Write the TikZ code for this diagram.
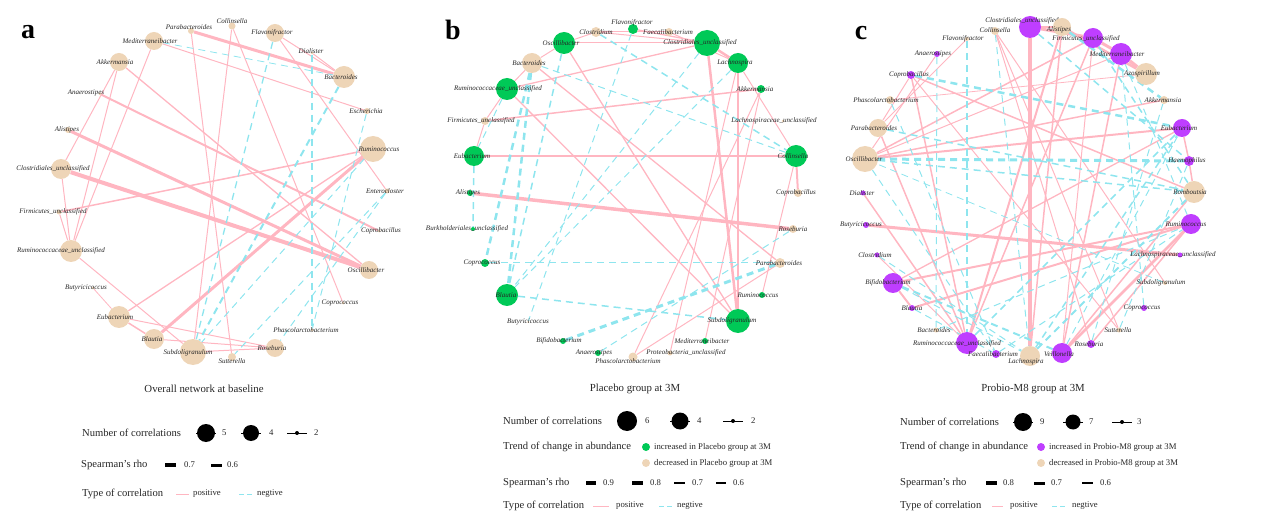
\documentclass[tikz,border=0pt]{standalone}
\usepackage{fontspec}
\setmainfont{Liberation Serif}
\usetikzlibrary{positioning}

\definecolor{rose}{HTML}{FFB6C1}
\definecolor{cyanne}{HTML}{8EE5EE}
\definecolor{beige}{HTML}{EED5B7}
\definecolor{vert}{HTML}{00C957}
\definecolor{pourpre}{HTML}{BF3EFF}

\pgfdeclarelayer{fond}
\pgfsetlayers{fond,main}

\tikzset{
  taxon/.style={circle, inner sep=0pt},
  nomtaxon/.style={font=\fontsize{7}{8}\selectfont\itshape, inner sep=0pt, text=black!85},
  posi/.style={draw=rose},
  negt/.style={draw=cyanne, dash pattern=on 7pt off 5pt},
  titrelegende/.style={font=\fontsize{10.6}{12}\selectfont, anchor=west, inner sep=0pt, text=black!85},
  entree/.style={font=\fontsize{8.7}{10}\selectfont, anchor=west, inner sep=0pt, text=black!85},
  titrepanneau/.style={font=\fontsize{10.8}{12}\selectfont, text=black!85},
  lettre/.style={font=\fontsize{28}{28}\selectfont\bfseries, inner sep=0pt},
  cle/.style={circle, fill=black, inner sep=0pt},
}

\newcommand\Taxon[8] {
  \node[taxon, fill=#5, minimum size=#4pt] (#1) at (#2,#3) {};
  \node[nomtaxon] (#1-nom) at (#6,#7) {#8};
}
\newcommand\Pos[3] {
  \draw[posi, line width=#3pt] (#1) -- (#2);
}
\newcommand\Neg[3] {
  \draw[negt, line width=#3pt] (#1) -- (#2);
}
\newcommand\Cle[4] {
  \draw[black, line width=0.8pt] (#2-10,#3) -- (#2+10,#3);
  \node[cle, minimum size=#4pt] (#1) at (#2,#3) {};
}

\begin{document}
\begin{tikzpicture}[x=1pt, y=-1pt]
  \useasboundingbox (0,0) rectangle (1269,529);

  \node[lettre] (lettreA) at (28,32) {a};
  \node[lettre] (lettreB) at (453,30) {b};
  \node[lettre] (lettreC) at (861,33) {c};

  \Taxon{aPara}{191}{31}{6}{beige}{189}{27}{Parabacteroides}
  \Taxon{aColl}{232}{26}{7}{beige}{232}{21}{Collinsella}
  \Taxon{aFlav}{275}{33}{18}{beige}{272}{33}{Flavonifractor}
  \Taxon{aMedi}{154}{41}{18}{beige}{150}{41}{Mediterraneibacter}
  \Taxon{aDial}{312}{53}{3}{beige}{311}{51}{Dialister}
  \Taxon{aAkke}{119}{62}{18}{beige}{115}{62}{Akkermansia}
  \Taxon{aBact}{344}{77}{22}{beige}{341}{77}{Bacteroides}
  \Taxon{aAnae}{100}{94}{3}{beige}{86}{93}{Anaerostipes}
  \Taxon{aEsch}{367}{111}{6}{beige}{366}{111}{Escherichia}
  \Taxon{aAlis}{68}{130}{6}{beige}{67}{130}{Alistipes}
  \Taxon{aRumi}{373}{149}{26}{beige}{379}{149}{Ruminococcus}
  \Taxon{aClosU}{61}{169}{20}{beige}{53}{169}{Clostridiales\_unclassified}
  \Taxon{aEnte}{387}{191}{5}{beige}{385}{191}{Enterocloster}
  \Taxon{aFirm}{59}{212}{5}{beige}{53}{212}{Firmicutes\_unclassified}
  \Taxon{aCopb}{379}{231}{3}{beige}{381}{231}{Coprobacillus}
  \Taxon{aRumU}{71}{251}{22}{beige}{61}{251}{Ruminococcaceae\_unclassified}
  \Taxon{aOsci}{369}{270}{18}{beige}{366}{270}{Oscillibacter}
  \Taxon{aButy}{93}{288}{3}{beige}{86}{288}{Butyricicoccus}
  \Taxon{aCopc}{343}{303}{3}{beige}{340}{303}{Coprococcus}
  \Taxon{aEub}{119}{317}{22}{beige}{115}{317}{Eubacterium}
  \Taxon{aPhas}{312}{330}{3}{beige}{306}{330}{Phascolarctobacterium}
  \Taxon{aBlau}{154}{339}{20}{beige}{152}{339}{Blautia}
  \Taxon{aRose}{275}{348}{18}{beige}{272}{348}{Roseburia}
  \Taxon{aSubd}{193}{352}{26}{beige}{188}{353}{Subdoligranulum}
  \Taxon{aSutt}{232}{357}{8}{beige}{232}{361}{Sutterella}

  \Taxon{bFlav}{633}{29}{10}{vert}{632}{23}{Flavonifractor}
  \Taxon{bClos}{596}{32}{10}{beige}{596}{32}{Clostridium}
  \Taxon{bFaec}{669}{32}{8}{beige}{668}{32}{Faecalibacterium}
  \Taxon{bOsci}{564}{43}{22}{vert}{561}{43}{Oscillibacter}
  \Taxon{bClosU}{707}{43}{26}{vert}{700}{43}{Clostridiales\_unclassified}
  \Taxon{bBact}{532}{63}{20}{beige}{529}{63}{Bacteroides}
  \Taxon{bLach}{738}{63}{20}{vert}{735}{63}{Lachnospira}
  \Taxon{bRumU}{507}{89}{22}{vert}{498}{89}{Ruminococcaceae\_unclassified}
  \Taxon{bAkke}{761}{89}{8}{vert}{755}{89}{Akkermansia}
  \Taxon{bFirm}{485}{121}{8}{beige}{481}{121}{Firmicutes\_unclassified}
  \Taxon{bLachU}{783}{121}{3}{beige}{774}{121}{Lachnospiraceae\_unclassified}
  \Taxon{bEub}{474}{156}{20}{vert}{472}{156}{Eubacterium}
  \Taxon{bColl}{796}{156}{22}{vert}{793}{156}{Collinsella}
  \Taxon{bAlis}{470}{193}{6}{vert}{468}{193}{Alistipes}
  \Taxon{bCopb}{798}{193}{8}{beige}{796}{193}{Coprobacillus}
  \Taxon{bBurk}{473}{229}{4}{vert}{467}{229}{Burkholderiales\_unclassified}
  \Taxon{bRose}{793}{229}{8}{beige}{793}{229}{Roseburia}
  \Taxon{bCopc}{485}{263}{8}{vert}{482}{263}{Coprococcus}
  \Taxon{bPara}{780}{263}{10}{beige}{779}{263}{Parabacteroides}
  \Taxon{bBlau}{507}{295}{22}{vert}{506}{295}{Blautia}
  \Taxon{bRumi}{762}{295}{6}{vert}{758}{295}{Ruminococcus}
  \Taxon{bButy}{528}{322}{2}{beige}{528}{322}{Butyricicoccus}
  \Taxon{bSubd}{738}{321}{24}{vert}{732}{321}{Subdoligranulum}
  \Taxon{bBifi}{563}{341}{6}{vert}{559}{341}{Bifidobacterium}
  \Taxon{bMedi}{705}{341}{6}{vert}{702}{341}{Mediterraneibacter}
  \Taxon{bAnae}{598}{353}{6}{vert}{594}{353}{Anaerostipes}
  \Taxon{bProt}{670}{353}{5}{beige}{686}{353}{Proteobacteria\_unclassified}
  \Taxon{bPhas}{633}{357}{9}{beige}{628}{361}{Phascolarctobacterium}

  \Taxon{cClosU}{1030}{27}{22}{pourpre}{1022}{21}{Clostridiales\_unclassified}
  \Taxon{cColl}{995}{31}{8}{beige}{995}{30}{Collinsella}
  \Taxon{cAlis}{1062}{27}{18}{beige}{1059}{30}{Alistipes}
  \Taxon{cFlav}{967}{39}{4}{beige}{963}{39}{Flavonifractor}
  \Taxon{cFirm}{1093}{38}{20}{pourpre}{1086}{39}{Firmicutes\_unclassified}
  \Taxon{cAnae}{937}{54}{6}{pourpre}{933}{54}{Anaerostipes}
  \Taxon{cMedi}{1121}{54}{22}{pourpre}{1117}{54}{Mediterraneibacter}
  \Taxon{cCopb}{911}{75}{8}{pourpre}{909}{75}{Coprobacillus}
  \Taxon{cAzos}{1146}{74}{22}{beige}{1142}{74}{Azospirillum}
  \Taxon{cPhas}{890}{100}{8}{beige}{886}{100}{Phascolarctobacterium}
  \Taxon{cAkke}{1164}{100}{8}{beige}{1163}{100}{Akkermansia}
  \Taxon{cPara}{878}{128}{18}{beige}{874}{128}{Parabacteroides}
  \Taxon{cEub}{1182}{128}{18}{pourpre}{1179}{128}{Eubacterium}
  \Taxon{cOsci}{865}{159}{26}{beige}{864}{159}{Oscillibacter}
  \Taxon{cHaem}{1189}{161}{10}{pourpre}{1187}{161}{Haemophilus}
  \Taxon{cDial}{863}{193}{5}{pourpre}{862}{193}{Dialister}
  \Taxon{cRomb}{1194}{192}{22}{beige}{1190}{192}{Romboutsia}
  \Taxon{cButy}{866}{225}{6}{pourpre}{861}{225}{Butyricicoccus}
  \Taxon{cRumi}{1191}{224}{20}{pourpre}{1186}{224}{Ruminococcus}
  \Taxon{cClos}{877}{255}{5}{pourpre}{875}{255}{Clostridium}
  \Taxon{cLachU}{1180}{255}{5}{pourpre}{1173}{255}{Lachnospiraceae\_unclassified}
  \Taxon{cBifi}{893}{283}{20}{pourpre}{888}{283}{Bifidobacterium}
  \Taxon{cSubd}{1165}{283}{4}{beige}{1161}{283}{Subdoligranulum}
  \Taxon{cBlau}{912}{308}{6}{pourpre}{912}{308}{Blautia}
  \Taxon{cCopc}{1144}{308}{6}{pourpre}{1142}{308}{Coprococcus}
  \Taxon{cBact}{936}{330}{5}{beige}{934}{330}{Bacteroides}
  \Taxon{cSutt}{1119}{330}{5}{beige}{1118}{330}{Sutterella}
  \Taxon{cRumU}{967}{343}{22}{pourpre}{957}{344}{Ruminococcaceae\_unclassified}
  \Taxon{cRose}{1091}{344}{8}{pourpre}{1089}{344}{Roseburia}
  \Taxon{cFaec}{996}{354}{8}{pourpre}{993}{354}{Faecalibacterium}
  \Taxon{cVeil}{1062}{353}{20}{pourpre}{1059}{354}{Veillonella}
  \Taxon{cLach}{1030}{356}{20}{beige}{1026}{362}{Lachnospira}

  \begin{pgfonlayer}{fond}
    \Pos{aPara}{aBact}{3}
    \Pos{aPara}{aSutt}{1}
    \Pos{aColl}{aSubd}{1}
    \Pos{aColl}{aCopc}{1}
    \Pos{aMedi}{aEsch}{1}
    \Pos{aMedi}{aRumU}{1}
    \Pos{aAkke}{aClosU}{1}
    \Pos{aAkke}{aRumU}{1}
    \Pos{aAkke}{aOsci}{1.3}
    \Pos{aAnae}{aCopb}{2}
    \Pos{aAlis}{aOsci}{3}
    \Pos{aClosU}{aOsci}{4}
    \Pos{aFirm}{aRumi}{1.5}
    \Pos{aClosU}{aRumU}{1}
    \Pos{aFirm}{aRumU}{1}
    \Pos{aRumU}{aSubd}{1}
    \Pos{aButy}{aEub}{0.8}
    \Pos{aEub}{aRumi}{1.3}
    \Pos{aBlau}{aRumi}{3}
    \Pos{aEub}{aRose}{1}
    \Pos{aEub}{aBlau}{1.5}
    \Pos{aBlau}{aRose}{1}
    \Pos{aSubd}{aRose}{1}
    \Pos{aFlav}{aBact}{1}
    \Pos{aDial}{aBact}{1}
    \Pos{aFlav}{aEnte}{1}
    \Neg{aMedi}{aBact}{0.8}
    \Neg{aFlav}{aSubd}{1.3}
    \Neg{aDial}{aPhas}{2.5}
    \Neg{aBact}{aSubd}{2}
    \Neg{aEsch}{aPhas}{1}
    \Neg{aRumi}{aSubd}{1}
    \Neg{aEnte}{aSutt}{1}
    \Neg{aEnte}{aRose}{1}

    \Pos{bClos}{bFaec}{1}
    \Pos{bFlav}{bClosU}{1.3}
    \Pos{bClos}{bClosU}{1}
    \Pos{bOsci}{bClos}{1}
    \Pos{bOsci}{bClosU}{1}
    \Pos{bClosU}{bLach}{2.5}
    \Pos{bFaec}{bLach}{1}
    \Pos{bClosU}{bRumU}{1.3}
    \Pos{bBact}{bRumU}{1}
    \Pos{bBact}{bOsci}{1}
    \Pos{bRumU}{bFirm}{1}
    \Pos{bFirm}{bEub}{1}
    \Pos{bFirm}{bAkke}{1.5}
    \Pos{bEub}{bColl}{1.2}
    \Pos{bAlis}{bRose}{3.5}
    \Pos{bClosU}{bSubd}{2.5}
    \Pos{bLach}{bSubd}{1.5}
    \Pos{bLach}{bProt}{1}
    \Pos{bAkke}{bMedi}{1}
    \Pos{bAkke}{bPhas}{1}
    \Pos{bColl}{bCopb}{2}
    \Pos{bColl}{bRumi}{1}
    \Pos{bLach}{bColl}{1}
    \Pos{bOsci}{bSubd}{1.3}
    \Pos{bRumU}{bSubd}{1.3}
    \Pos{bBact}{bPara}{1.3}
    \Pos{bPara}{bPhas}{1}
    \Neg{bEub}{bBurk}{1.5}
    \Neg{bBact}{bBlau}{2.5}
    \Neg{bBact}{bCopc}{2.5}
    \Neg{bRumU}{bEub}{1}
    \Neg{bOsci}{bBlau}{1.5}
    \Neg{bFlav}{bButy}{1}
    \Neg{bClosU}{bBlau}{1}
    \Neg{bLach}{bBlau}{1}
    \Neg{bBlau}{bSubd}{1.5}
    \Neg{bCopc}{bPara}{1}
    \Neg{bBifi}{bPara}{3}
    \Neg{bAnae}{bRose}{1}
    \Neg{bClos}{bColl}{1.5}
    \Neg{bBact}{bColl}{1}

    \Pos{cClosU}{cLach}{3.5}
    \Pos{cClosU}{cFirm}{3}
    \Pos{cFirm}{cMedi}{3}
    \Pos{cMedi}{cAzos}{3.5}
    \Pos{cAlis}{cAzos}{2.5}
    \Pos{cClosU}{cAlis}{2}
    \Pos{cButy}{cLachU}{3}
    \Pos{cBifi}{cRumi}{2}
    \Pos{cBlau}{cRumi}{2}
    \Pos{cOsci}{cEub}{2}
    \Pos{cOsci}{cAkke}{1.5}
    \Pos{cOsci}{cFirm}{1.5}
    \Pos{cOsci}{cMedi}{1}
    \Pos{cCopb}{cRomb}{1.5}
    \Pos{cEub}{cHaem}{1.5}
    \Pos{cHaem}{cRomb}{1.5}
    \Pos{cRumi}{cVeil}{2.5}
    \Pos{cRumi}{cRose}{1.5}
    \Pos{cRomb}{cVeil}{1.5}
    \Pos{cDial}{cRumU}{1.5}
    \Pos{cRumU}{cCopb}{1.5}
    \Pos{cRumU}{cAlis}{2}
    \Pos{cRumU}{cFirm}{1.5}
    \Pos{cRumU}{cPara}{1.5}
    \Pos{cBifi}{cBlau}{2}
    \Pos{cColl}{cSutt}{1}
    \Pos{cColl}{cRose}{1}
    \Pos{cFlav}{cPara}{1}
    \Pos{cAnae}{cOsci}{1}
    \Pos{cCopb}{cPara}{1}
    \Pos{cPhas}{cAzos}{0.8}
    \Pos{cLach}{cAlis}{1.5}
    \Pos{cVeil}{cMedi}{1.5}
    \Pos{cVeil}{cFirm}{1}
    \Pos{cCopb}{cSutt}{1}
    \Pos{cSubd}{cColl}{1}
    \Pos{cBifi}{cEub}{1.3}
    \Pos{cClos}{cRumU}{1}
    \Neg{cCopb}{cEub}{2.5}
    \Neg{cOsci}{cHaem}{3}
    \Neg{cPara}{cRomb}{1.5}
    \Neg{cOsci}{cRomb}{1.5}
    \Neg{cAlis}{cAkke}{2.5}
    \Neg{cClosU}{cHaem}{1.5}
    \Neg{cFirm}{cRomb}{1.5}
    \Neg{cMedi}{cRumi}{1}
    \Neg{cColl}{cLach}{1}
    \Neg{cFlav}{cRumU}{1.2}
    \Neg{cBifi}{cVeil}{2}
    \Neg{cBifi}{cLach}{1}
    \Neg{cBact}{cRumi}{1}
    \Neg{cRumU}{cEub}{1.5}
    \Neg{cLach}{cEub}{1.5}
    \Neg{cFaec}{cRumi}{1}
    \Neg{cVeil}{cEub}{1}
    \Neg{cPhas}{cFaec}{1}
    \Neg{cOsci}{cFaec}{1}
    \Neg{cAnae}{cBact}{1}
    \Neg{cClos}{cLach}{1}
    \Neg{cBlau}{cFaec}{1}
    \Neg{cSutt}{cHaem}{1}
    \Neg{cCopc}{cMedi}{1}
    \Neg{cLach}{cRomb}{2}
    \Neg{cRose}{cAkke}{1}
    \Neg{cSubd}{cOsci}{0.8}
  \end{pgfonlayer}

  \node[titrepanneau] (titreA) at (204,389) {Overall network at baseline};
  \node[titrelegende] (aNb) at (82,433) {Number of correlations};
  \Cle{aCle5}{206}{433}{18}
  \node[entree] (aCle5-t) at (222,433) {5};
  \Cle{aCle4}{251}{433}{16}
  \node[entree] (aCle4-t) at (269,433) {4};
  \Cle{aCle2}{297}{433}{4}
  \node[entree] (aCle2-t) at (314,433) {2};
  \node[titrelegende] (aRho) at (81,465) {Spearman's rho};
  \draw[line width=4pt] (165,465) -- (176,465);
  \node[entree] (aRho7) at (184,465) {0.7};
  \draw[line width=3pt] (211,465) -- (222,465);
  \node[entree] (aRho6) at (227,465) {0.6};
  \node[titrelegende] (aType) at (82,494) {Type of correlation};
  \draw[posi, line width=1pt] (176,494) -- (189,494);
  \node[entree] (aPosi) at (193,494) {positive};
  \draw[negt, line width=1pt, dash pattern=on 5pt off 3pt] (239,494) -- (253,494);
  \node[entree] (aNegt) at (257,494) {negtive};

  \node[titrepanneau] (titreB) at (635,389) {Placebo group at 3M};
  \node[titrelegende] (bNb) at (503,421) {Number of correlations};
  \Cle{bCle6}{627}{421}{20}
  \node[entree] (bCle6-t) at (645,421) {6};
  \Cle{bCle4}{680}{421}{17}
  \node[entree] (bCle4-t) at (697,421) {4};
  \Cle{bCle2}{733}{421}{4}
  \node[entree] (bCle2-t) at (751,421) {2};
  \node[titrelegende] (bTrend) at (503,447) {Trend of change in abundance};
  \node[taxon, fill=vert, minimum size=8pt] (bPlus) at (646,447) {};
  \node[entree] (bPlus-t) at (654,447) {increased in Placebo group at 3M};
  \node[taxon, fill=beige, minimum size=8pt] (bMoins) at (646,463) {};
  \node[entree] (bMoins-t) at (654,463) {decreased in Placebo group at 3M};
  \node[titrelegende] (bRho) at (503,483) {Spearman's rho};
  \draw[line width=4.5pt] (586,483) -- (596,483);
  \node[entree] (bRho9) at (603,483) {0.9};
  \draw[line width=3.5pt] (632,483) -- (643,483);
  \node[entree] (bRho8) at (650,483) {0.8};
  \draw[line width=2.5pt] (674,483) -- (685,483);
  \node[entree] (bRho7) at (692,483) {0.7};
  \draw[line width=1.5pt] (716,483) -- (726,483);
  \node[entree] (bRho6) at (733,483) {0.6};
  \node[titrelegende] (bType) at (503,506) {Type of correlation};
  \draw[posi, line width=1pt] (593,506) -- (609,506);
  \node[entree] (bPosi) at (616,506) {positive};
  \draw[negt, line width=1pt, dash pattern=on 5pt off 3pt] (659,506) -- (673,506);
  \node[entree] (bNegt) at (677,506) {negtive};

  \node[titrepanneau] (titreC) at (1033,389) {Probio-M8 group at 3M};
  \node[titrelegende] (cNb) at (900,422) {Number of correlations};
  \Cle{cCle9}{1023}{422}{18}
  \node[entree] (cCle9-t) at (1040,422) {9};
  \Cle{cCle7}{1073}{422}{15}
  \node[entree] (cCle7-t) at (1089,422) {7};
  \Cle{cCle3}{1122}{422}{4}
  \node[entree] (cCle3-t) at (1137,422) {3};
  \node[titrelegende] (cTrend) at (900,447) {Trend of change in abundance};
  \node[taxon, fill=pourpre, minimum size=8pt] (cPlus) at (1041,447) {};
  \node[entree] (cPlus-t) at (1049,447) {increased in Probio-M8 group at 3M};
  \node[taxon, fill=beige, minimum size=8pt] (cMoins) at (1041,463) {};
  \node[entree] (cMoins-t) at (1049,463) {decreased in Probio-M8 group at 3M};
  \node[titrelegende] (cRho) at (900,483) {Spearman's rho};
  \draw[line width=4pt] (986,483) -- (997,483);
  \node[entree] (cRho8) at (1003,483) {0.8};
  \draw[line width=3pt] (1034,483) -- (1045,483);
  \node[entree] (cRho7) at (1051,483) {0.7};
  \draw[line width=2pt] (1082,483) -- (1093,483);
  \node[entree] (cRho6) at (1100,483) {0.6};
  \node[titrelegende] (cType) at (900,506) {Type of correlation};
  \draw[posi, line width=1pt] (992,506) -- (1003,506);
  \node[entree] (cPosi) at (1010,506) {positive};
  \draw[negt, line width=1pt, dash pattern=on 5pt off 3pt] (1052,506) -- (1065,506);
  \node[entree] (cNegt) at (1072,506) {negtive};
\end{tikzpicture}
\end{document}
